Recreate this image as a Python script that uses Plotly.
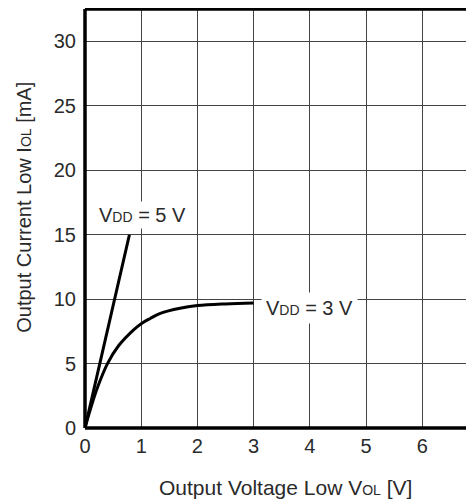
import plotly.graph_objects as go

# VDD = 5 V curve
v5_x = [0.0, 0.79]
v5_y = [0.0, 15.0]

# VDD = 3 V curve
v3_x = [0.0, 0.12, 0.24, 0.4, 0.6, 0.86, 1.0, 1.16, 1.34, 1.69, 2.0, 2.5, 3.0]
v3_y = [0.0, 1.8, 3.35, 5.0, 6.4, 7.6, 8.1, 8.5, 8.9, 9.3, 9.5, 9.63, 9.7]

x_ticks = [0, 1, 2, 3, 4, 5, 6]
y_ticks = [0, 5, 10, 15, 20, 25, 30]

FONT = "Liberation Sans, Arial, sans-serif"
TXT = "#2a2a2a"
SMALL = "<span style='font-size:14px'>{}</span>"

fig = go.Figure()
fig.add_trace(go.Scatter(x=v5_x, y=v5_y, mode="lines",
                         line=dict(color="black", width=3), showlegend=False))
fig.add_trace(go.Scatter(x=v3_x, y=v3_y, mode="lines", line_shape="spline",
                         line=dict(color="black", width=3, smoothing=1.0), showlegend=False))

fig.add_annotation(x=1.03, y=16.55, text="V" + SMALL.format("DD") + " = 5 V",
                   showarrow=False, bgcolor="white", borderpad=2,
                   font=dict(size=20, color=TXT))
fig.add_annotation(x=3.99, y=9.31, text="V" + SMALL.format("DD") + " = 3 V",
                   showarrow=False, bgcolor="white", borderpad=4,
                   font=dict(size=20, color=TXT))

# axis titles as annotations for exact placement
fig.add_annotation(xref="paper", yref="paper", x=0.515, y=-0.141, yanchor="middle",
                   text="Output Voltage Low V" + SMALL.format("OL") + " [V]",
                   showarrow=False, font=dict(size=21, color=TXT))
fig.add_annotation(xref="x domain", yref="paper", x=-0.159, y=0.526, xanchor="center",
                   yanchor="middle", textangle=-90,
                   text="Output Current Low I" + SMALL.format("OL") + " [mA]",
                   showarrow=False, font=dict(size=20, color=TXT))

# plot frame: left, bottom, top
for (x0, y0, x1, y1) in [(0, 0, 0, 1), (0, 0, 1, 0), (0, 1, 1, 1)]:
    fig.add_shape(type="line", xref="paper", yref="paper", x0=x0, y0=y0, x1=x1, y1=y1,
                  line=dict(color="black", width=3.5), layer="above")

fig.update_layout(
    width=466, height=496,
    margin=dict(l=77, r=0, t=1, b=76, autoexpand=False),
    plot_bgcolor="white", paper_bgcolor="white",
    font=dict(family=FONT, size=20, color=TXT),
    xaxis=dict(range=[0, 6.92], tickvals=x_ticks, showgrid=True, gridcolor="#444",
               gridwidth=1, zeroline=False, showline=False, ticks="",
               ticklabelstandoff=4, automargin=False),
    yaxis=dict(range=[0, 32.52], tickvals=y_ticks, showgrid=True, gridcolor="#444",
               gridwidth=1, zeroline=False, showline=False, ticks="",
               ticklabelstandoff=8, automargin=False),
)

fig.write_html("out.html")
